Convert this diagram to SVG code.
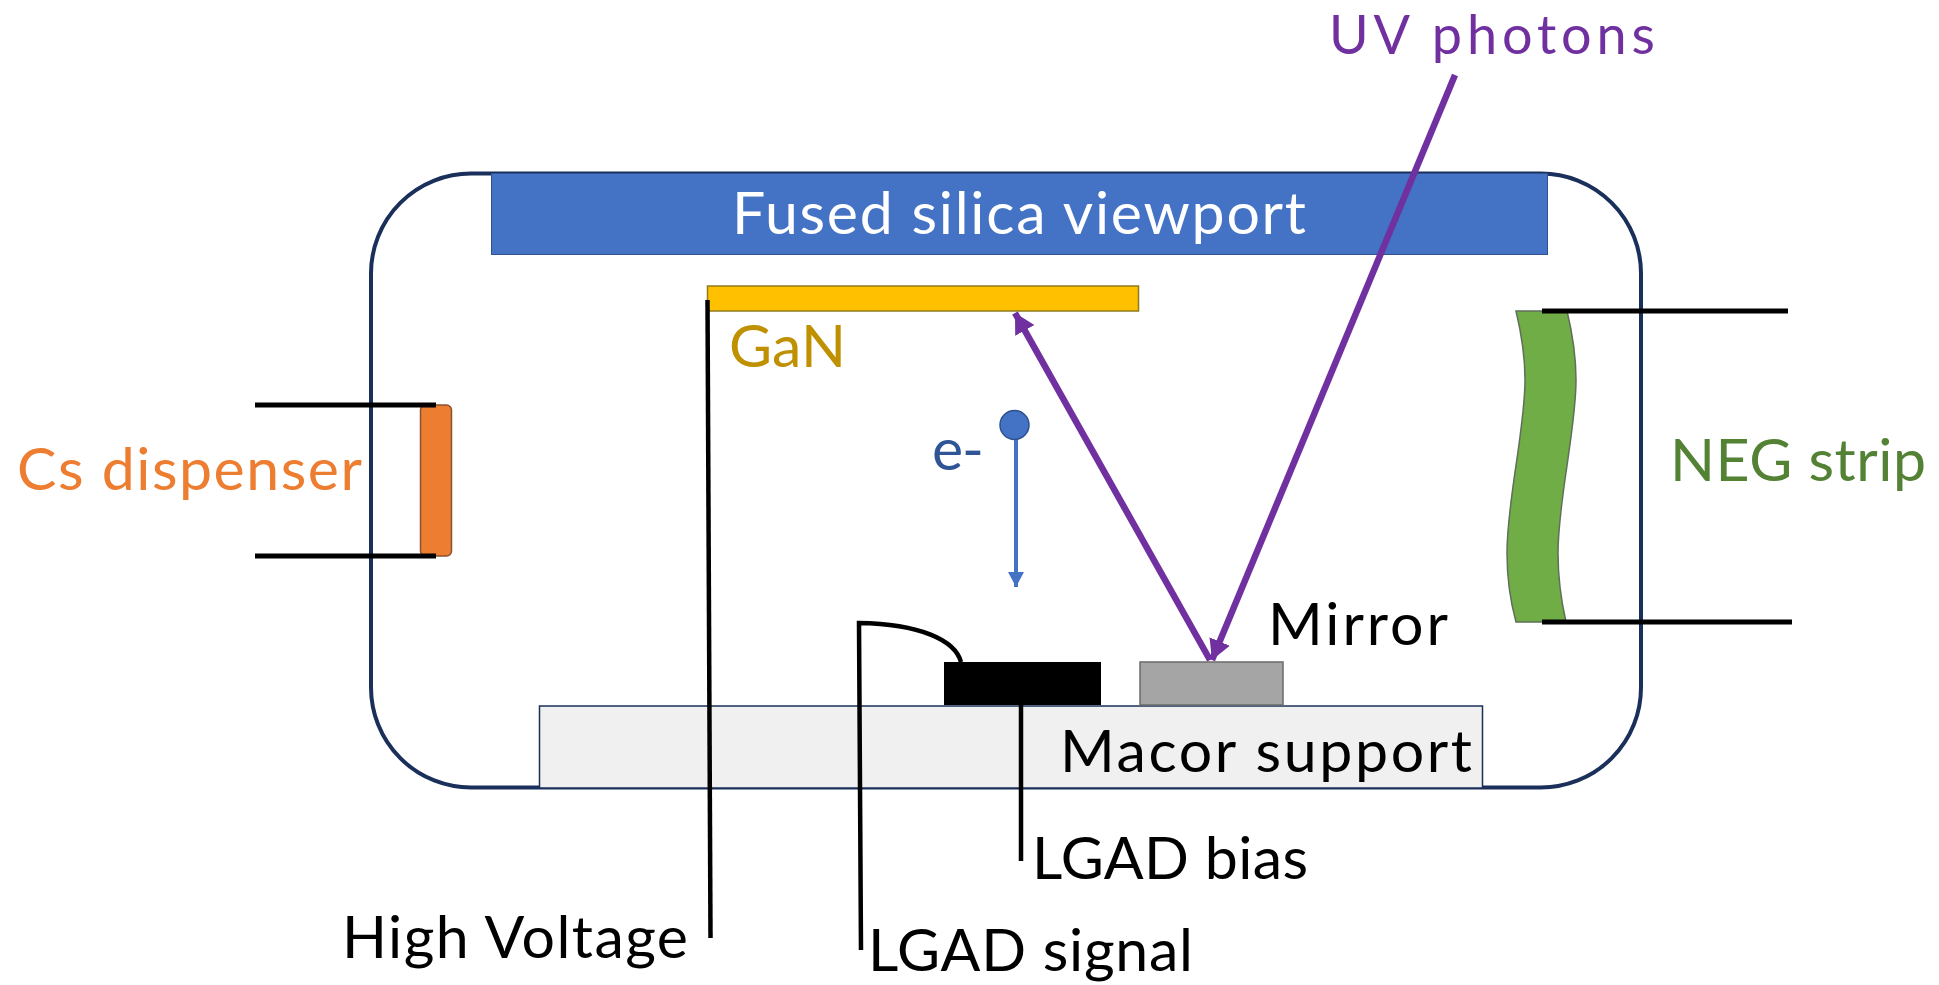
<svg xmlns="http://www.w3.org/2000/svg" width="1939" height="985" viewBox="0 0 1939 985">
<style>
text{font-family:"Lato","Carlito","Liberation Sans",sans-serif;font-size:59px}
.w{fill:none;stroke:#000;stroke-width:4.500}
.wt{fill:none;stroke:#000;stroke-width:5}
.k{fill:#000}
.p{fill:none;stroke:#7030a0;stroke-width:6.500}
</style>
<defs>
<marker id="ap" markerUnits="userSpaceOnUse" markerWidth="24" markerHeight="24" refX="20" refY="11" orient="auto"><path d="M0 0L20 11L0 22z" fill="#7030a0"/></marker>
<marker id="ab" markerUnits="userSpaceOnUse" markerWidth="18" markerHeight="18" refX="15" refY="8" orient="auto"><path d="M0 0L15 8L0 16z" fill="#4472c4"/></marker>
</defs>
<rect width="1939" height="985" fill="#fff"/>
<g id="chamber"><rect x="371" y="173.500" width="1270" height="614" rx="100" fill="#fff" stroke="#1a2f5a" stroke-width="4"/></g>
<g id="viewport"><rect x="491.500" y="173.500" width="1056" height="81" fill="#4472c4" stroke="#2f528f" stroke-width="1"/><text x="732" y="234" style="fill:#fff" textLength="574">Fused silica viewport</text></g>
<g id="macor"><rect x="539.500" y="706" width="943" height="82" fill="#f0f0f0" stroke="#1a2f5a" stroke-width="1.500"/><text x="1060" y="772" class="k" textLength="412">Macor support</text></g>
<g id="gan"><rect x="707.500" y="286" width="431" height="25" fill="#ffc000" stroke="#8f7a1e" stroke-width="1.500"/><text x="729" y="367" style="fill:#bf9000" textLength="117">GaN</text></g>
<g id="lgad"><rect x="944" y="662" width="157" height="43" fill="#000"/></g>
<g id="mirror"><rect x="1140" y="662" width="143" height="43" fill="#a5a5a5" stroke="#6b6b6b" stroke-width="1.500"/><text x="1268" y="645" class="k" textLength="180">Mirror</text></g>
<g id="cs-dispenser"><rect x="420.500" y="405" width="31" height="151" rx="5" fill="#ed7d31" stroke="#8a5230" stroke-width="1.500"/><text x="17" y="490" style="fill:#ed7d31" textLength="345">Cs dispenser</text></g>
<g id="neg-strip"><path d="M1516 311H1567C1574 340 1576 360 1576 380C1576 430 1558 500 1558 553C1558 580 1561 600 1566 622H1516C1510 600 1507 580 1507 553C1507 500 1525 430 1525 380C1525 360 1523 340 1516 311Z" fill="#70ad47" stroke="#5f6f58" stroke-width="1.500"/><text x="1670" y="481" style="fill:#548235" textLength="256">NEG strip</text></g>
<g id="electron"><circle cx="1014.500" cy="425" r="14.500" fill="#4472c4" stroke="#2f528f" stroke-width="1.500"/><text x="932" y="470" style="fill:#2f5597" textLength="52">e-</text></g>
<g id="uv-label"><text x="1329" y="54" style="fill:#7030a0;font-size:54px" textLength="326">UV photons</text></g>
<g id="hv-label"><text x="342" y="958" class="k" textLength="346">High Voltage</text></g>
<g id="bias-label"><text x="1032" y="879" class="k" textLength="276">LGAD bias</text></g>
<g id="signal-label"><text x="868" y="971" class="k" textLength="325">LGAD signal</text></g>
<g id="connectors">
<path class="wt" d="M255 405H436M255 556H436M1542 311H1788M1542 622H1792"/>
<path class="w" d="M707.500 300L710.500 938"/>
<path class="w" d="M1021 705V861"/>
<path class="w" d="M961 662C955 640 920 624 859 623L861 950"/>
<path class="p" marker-end="url(#ap)" d="M1455 75L1212 660"/>
<path class="p" marker-end="url(#ap)" d="M1210 660L1015 313"/>
<path fill="none" stroke="#4472c4" stroke-width="4" marker-end="url(#ab)" d="M1016 440V587"/>
</g>
</svg>
